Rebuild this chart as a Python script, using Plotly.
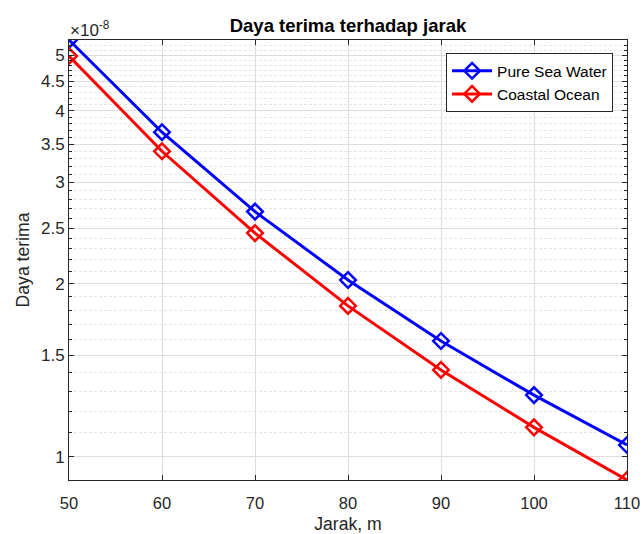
import plotly.graph_objects as go
import math

jarak = [50, 60, 70, 80, 90, 100, 110]
pure_sea_water = [5.31e-8, 3.67e-8, 2.67e-8, 2.03e-8, 1.59e-8, 1.28e-8, 1.048e-8]
coastal_ocean = [4.98e-8, 3.40e-8, 2.45e-8, 1.83e-8, 1.416e-8, 1.125e-8, 0.911e-8]

y_major = [1, 1.5, 2, 2.5, 3, 3.5, 4, 4.5, 5]
y_major_labels = ["1", "1.5", "2", "2.5", "3", "3.5", "4", "4.5", "5"]
y_minor = [round(0.9 + 0.1 * i, 1) for i in range(0, 45)]
x_ticks = [50, 60, 70, 80, 90, 100, 110]

scale = 1e-8
FONT = "Liberation Sans, Arial, sans-serif"
TXT = "#262626"

fig = go.Figure()
fig.add_trace(go.Scatter(
    x=jarak, y=pure_sea_water, name="Pure Sea Water", mode="lines+markers",
    line=dict(color="#0000FF", width=3),
    marker=dict(symbol="diamond-open", size=12, color="#0000FF", line=dict(width=2.5, color="#0000FF")),
))
fig.add_trace(go.Scatter(
    x=jarak, y=coastal_ocean, name="Coastal Ocean", mode="lines+markers",
    line=dict(color="#FF0000", width=3),
    marker=dict(symbol="diamond-open", size=12, color="#FF0000", line=dict(width=2.5, color="#FF0000")),
))

ymin = min(coastal_ocean + pure_sea_water)
ymax = max(coastal_ocean + pure_sea_water)
minor_vals = [v * scale for v in y_minor if ymin < v * scale < ymax and v not in y_major]

fig.update_layout(
    width=642, height=534,
    margin=dict(l=69, r=15, t=40, b=54),
    paper_bgcolor="white", plot_bgcolor="white",
    font=dict(family=FONT, size=16, color=TXT),
    title=dict(text="<b>Daya terima terhadap jarak</b>", x=0.542, xanchor="center",
               y=0.953, yanchor="middle", font=dict(size=18.5, color="black", family=FONT)),
    showlegend=True,
    legend=dict(x=0.975, xanchor="right", y=0.97, yanchor="top",
                bordercolor="#262626", borderwidth=1, bgcolor="white",
                font=dict(size=15.5, color="black", family=FONT),
                tracegroupgap=0, itemwidth=40),
    xaxis=dict(
        range=[50, 110], tickvals=x_ticks, ticktext=[str(v) for v in x_ticks],
        showline=True, linecolor=TXT, linewidth=1, mirror="allticks",
        ticks="inside", ticklen=5, tickcolor=TXT,
        showgrid=True, gridcolor="#DDDDDD", gridwidth=1,
        zeroline=False, automargin=False, ticklabelstandoff=8,
        title=dict(text="Jarak, m", font=dict(size=17.6, color=TXT), standoff=10),
        tickfont=dict(size=16.5, color=TXT),
    ),
    yaxis=dict(
        type="log",
        range=[math.log10(ymin), math.log10(ymax)],
        tickvals=[v * scale for v in y_major], ticktext=y_major_labels,
        showline=True, linecolor=TXT, linewidth=1, mirror="allticks",
        ticks="inside", ticklen=5, tickcolor=TXT,
        showgrid=True, gridcolor="#DDDDDD", gridwidth=1,
        zeroline=False, automargin=False,
        title=dict(text="Daya terima", font=dict(size=17.6, color=TXT), standoff=6),
        tickfont=dict(size=17, color=TXT),
        minor=dict(tickmode="array", tickvals=minor_vals, showgrid=True,
                   gridcolor="#E6E6E6", griddash="3px,2px", gridwidth=1,
                   ticks="inside", ticklen=3, tickcolor=TXT),
    ),
)

fig.add_annotation(
    xref="paper", yref="paper", x=0.0, y=1.0, xanchor="left", yanchor="bottom",
    text="×10<sup>-8</sup>", showarrow=False, font=dict(size=17, color=TXT, family=FONT),
    xshift=-1, yshift=-2,
)

fig.write_html("out.html", config={"displayModeBar": False},
               post_script="document.body.style.margin='0';document.body.style.overflow='hidden';")
